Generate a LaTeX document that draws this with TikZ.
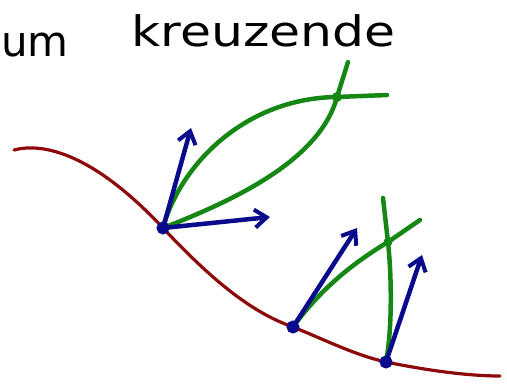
\documentclass[tikz,border=0pt]{standalone}
\usepackage{fontspec}
\setsansfont{DejaVu Sans}
\usetikzlibrary{arrows.meta}
\definecolor{curvered}{RGB}{140,10,10}
\definecolor{vecblue}{RGB}{10,10,140}
\definecolor{geogreen}{RGB}{20,135,20}
\tikzset{
  curve/.style={draw=curvered, line width=3.2pt, line cap=round},
  geo/.style={draw=geogreen, line width=4.5pt, line cap=round},
  vec/.style={draw=vecblue, line width=4.5pt, line cap=round,
    -{Straight Barb[length=12pt,width=18pt,line width=4pt]}},
  basept/.style={circle, draw=vecblue, fill=vecblue, line width=2pt, minimum size=11pt, inner sep=0pt},
  crosspt/.style={circle, fill=geogreen, minimum size=10pt, inner sep=0pt},
  script/.style={font=\sffamily\fontsize{42}{42}\selectfont, inner sep=0pt, anchor=base west}
}
\begin{document}
\begin{tikzpicture}[x=1pt, y=-1pt]
\useasboundingbox (0,0) rectangle (507,391);

% heading
\node[script, xscale=1.0] (w1) at (1,56) {um};
\node[script, xscale=1.2] (w2) at (131,46) {kreuzende};

% the curve
\draw[curve] (14,150) .. controls (40,143) and (90,150) .. (163,228)
  .. controls (210,278) and (250,312) .. (293,327)
  .. controls (330,342) and (355,355) .. (386,362)
  .. controls (430,371) and (470,376) .. (500,376);

% base points and intersection points
\coordinate (p1) at (163,228);
\coordinate (p2) at (293,327);
\coordinate (p3) at (386,362);
\coordinate (q1) at (337,97);
\coordinate (q2) at (388,242);

% geodesics from p1 meeting at q1
\coordinate (u1) at (387,95);
\coordinate (u2) at (348,62);
\draw[geo] (p1) .. controls (180,165) and (245,98) .. (q1) -- (u1);
\draw[geo] (p1) .. controls (235,200) and (320,160) .. (q1) -- (u2);

% geodesics from p2 and p3 meeting at q2
\coordinate (u3) at (420,220);
\coordinate (u4) at (383,198);
\draw[geo] (p2) .. controls (320,290) and (350,265) .. (q2) -- (u3);
\draw[geo] (p3) .. controls (392,330) and (392,280) .. (q2) -- (u4);

% tangent vectors
\coordinate (v1) at (191,128);
\coordinate (v2) at (270,217);
\coordinate (v3) at (357,228);
\coordinate (v4) at (422,255);
\draw[vec] (p1) -- (v1);
\draw[vec] (p1) -- (v2);
\draw[vec] (p2) -- (v3);
\draw[vec] (p3) -- (v4);

\node[basept] (b1) at (p1) {};
\node[basept] (b2) at (p2) {};
\node[basept] (b3) at (p3) {};
\node[crosspt] (c1) at (q1) {};
\node[crosspt, minimum size=9pt] (c2) at (q2) {};
\end{tikzpicture}
\end{document}
